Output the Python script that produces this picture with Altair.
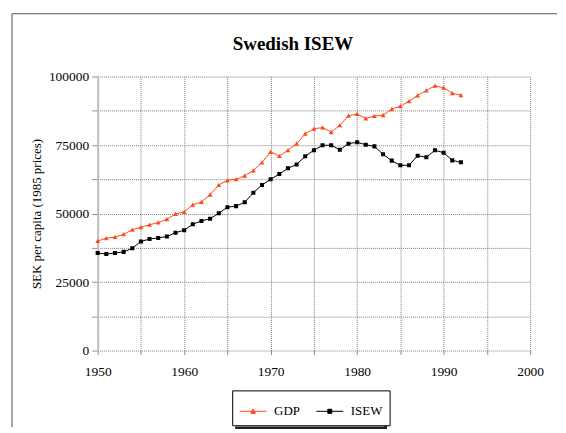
import altair as alt
import pandas as pd

years = list(range(1950, 1993))
gdp_k = [40.0, 41.0, 41.4, 42.4, 44.1, 45.0, 45.9, 46.7, 47.9, 49.8,
         50.6, 53.2, 54.2, 56.9, 60.4, 62.1, 62.5, 63.8, 65.7, 68.6,
         72.5, 71.0, 73.1, 75.5, 79.1, 80.9, 81.4, 79.7, 82.2, 85.7,
         86.3, 84.7, 85.6, 85.9, 88.1, 89.2, 91.0, 93.1, 94.9, 96.6,
         95.9, 93.9, 93.2]
isew_k = [35.6, 35.2, 35.6, 36.0, 37.3, 39.8, 40.7, 41.1, 41.6, 43.0,
          43.9, 46.1, 47.3, 48.1, 50.1, 52.3, 52.7, 54.1, 57.6, 60.4,
          62.5, 64.4, 66.5, 67.9, 70.9, 73.1, 74.9, 74.9, 73.3, 75.5,
          76.0, 75.1, 74.5, 71.6, 69.3, 67.6, 67.6, 71.1, 70.5, 73.1,
          72.2, 69.4, 68.7]
series_names = ["GDP", "ISEW"]
series_colors = ["#ff4a1c", "#000000"]
# line + marker paths (line part only visible in the legend)
series_shapes = [
    "M-1,0H1M-0.18,0.15L0,-0.17L0.18,0.15Z",
    "M-1,0H1M-0.15,-0.15H0.15V0.15H-0.15Z",
]
x_ticks = list(range(1950, 2001, 5))
y_ticks = list(range(0, 100001, 12500))
title_text = "Swedish ISEW"

rows = []
for name, vals in zip(series_names, [gdp_k, isew_k]):
    for yr, v in zip(years, vals):
        rows.append({"year": yr, "value": v * 1000, "series": name})
df = pd.DataFrame(rows)

FONT = "Liberation Serif"

x_enc = alt.X("year:Q", scale=alt.Scale(domain=[1950, 2000], nice=False),
              axis=alt.Axis(values=x_ticks, format="d",
                            labelExpr="datum.value % 10 == 0 ? datum.label : ''",
                            labelFont=FONT, labelFontSize=13.5, labelColor="black",
                            labelFlush=False, labelOverlap=False,
                            title=None, domain=False, tickSize=4,
                            labelPadding=10))
y_enc = alt.Y("value:Q", scale=alt.Scale(domain=[0, 100000], nice=False),
              axis=alt.Axis(values=y_ticks, format="d",
                            labelExpr="datum.value % 25000 == 0 ? datum.label : ''",
                            labelFont=FONT, labelFontSize=13.5, labelColor="black",
                            labelFlush=False, labelOverlap=False,
                            title="SEK per capita (1985 prices)",
                            titleFont=FONT, titleFontSize=13, titleFontWeight="normal",
                            titleColor="black",
                            domain=True, domainColor="#c0c0c0", domainWidth=2,
                            tickSize=6, labelPadding=3, titlePadding=5))

leg = alt.Legend(orient="none", legendX=135, legendY=315, direction="horizontal",
                 title=None, strokeColor="black", fillColor="white", padding=7,
                 symbolSize=729, symbolStrokeWidth=1, labelFont=FONT,
                 labelFontSize=13, labelColor="black", columnPadding=13,
                 labelOffset=7)

color_scale = alt.Scale(domain=series_names, range=series_colors)
shape_scale = alt.Scale(domain=series_names, range=series_shapes)

lines = alt.Chart(df).mark_line(strokeWidth=1).encode(
    x=x_enc, y=y_enc,
    color=alt.Color("series:N", scale=color_scale, legend=leg),
)

points = alt.Chart(df).mark_point(filled=True, size=729, opacity=1).encode(
    x=x_enc, y=y_enc,
    color=alt.Color("series:N", scale=color_scale, legend=leg),
    stroke=alt.Stroke("series:N", scale=color_scale, legend=leg),
    shape=alt.Shape("series:N", scale=shape_scale, legend=leg),
    strokeWidth=alt.value(0),
)

deco = alt.Data(values=[{"t": title_text}])
left_border = alt.Chart(deco).mark_rule(color="#555555", strokeWidth=1).encode(
    x=alt.value(-86), y=alt.value(-63), y2=alt.value(352))
top_border = alt.Chart(deco).mark_rule(color="#555555", strokeWidth=1).encode(
    x=alt.value(-86), x2=alt.value(461), y=alt.value(-63))
shadow_v = alt.Chart(deco).mark_rule(color="#222222", strokeWidth=2.5).encode(
    x=alt.value(289), y=alt.value(319), y2=alt.value(353.5))
shadow_h = alt.Chart(deco).mark_rule(color="#222222", strokeWidth=2.5).encode(
    x=alt.value(138), x2=alt.value(290.2), y=alt.value(352.5))
title_mark = alt.Chart(deco).mark_text(
    font=FONT, fontSize=19, fontWeight="bold", color="black",
    align="center", baseline="alphabetic").encode(
    text="t:N", x=alt.value(196), y=alt.value(-27))

chart = alt.layer(left_border, top_border, shadow_v, shadow_h, title_mark,
                  lines, points).properties(
    width=434, height=275,
    padding={"left": 3, "top": 4, "right": 0, "bottom": 0},
).configure_view(stroke=None).configure_axis(
    grid=True, gridColor="#808080", gridDash=[1, 1], gridWidth=1,
    tickColor="#909090", tickWidth=1,
)

chart.save("out.html", embed_options={"renderer": "svg", "actions": False})
